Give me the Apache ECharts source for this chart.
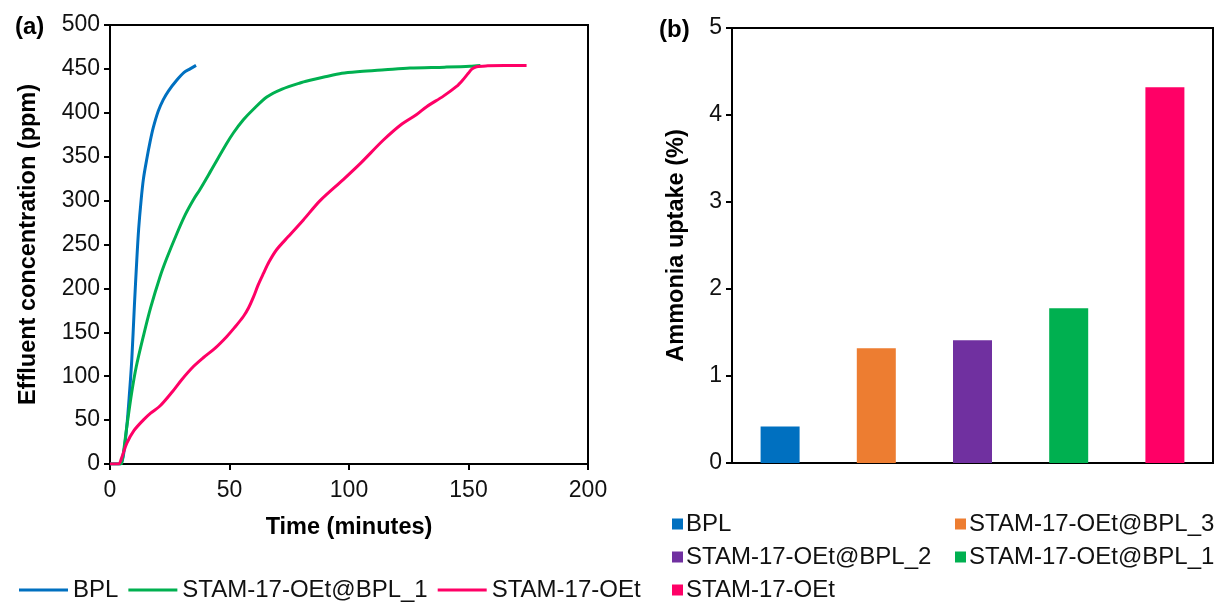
<!DOCTYPE html>
<html>
<head>
<meta charset="utf-8">
<script src="https://cdn.jsdelivr.net/npm/echarts@6/dist/echarts.min.js"></script>
<style>
html, body { margin: 0; padding: 0; background: #fff; }
#main { width: 1217px; height: 603px; }
</style>
</head>
<body>
<div id="main"></div>
<script>
// (a) breakthrough curves: [time (min), concentration (ppm)]
var bplCurve = [
    [0, 0], [4.2, 0], [5.5, 8], [7, 42], [8, 75], [9.1, 118], [10.2, 180], [11.2, 232],
    [12, 268], [13, 300], [14, 325], [15.3, 346], [16.7, 366], [18.1, 383], [20.2, 402],
    [22.3, 415], [24.5, 425], [27.9, 437], [31, 446], [33.5, 450], [36, 454]
];
var bpl1Curve = [
    [0, 0], [3.8, 0], [4.9, 1], [7, 42], [9, 80], [11, 111], [14, 146], [17, 178],
    [20.9, 213], [23.7, 234], [27.9, 262], [31.5, 284], [34.9, 301], [37.7, 313], [42, 333],
    [48.8, 365], [51.6, 377], [55.8, 392], [60, 404], [65.6, 418], [72, 427],
    [79.5, 434], [83.7, 437], [90, 441], [97, 445], [104.6, 447], [115, 449],
    [125.5, 451], [140, 452], [150.6, 453], [155, 454]
];
var oetCurve = [
    [0, 0], [3.5, 0], [5, 8], [7, 23.5], [10, 38], [13.9, 50], [17, 58], [20.9, 66],
    [26, 82], [30, 96], [34.9, 111], [39, 121], [44, 132], [48.8, 145], [52, 155],
    [55.8, 168], [58, 178], [60, 190], [62, 204], [64.2, 217], [66.5, 230], [69.7, 244],
    [74.6, 259], [80.9, 278], [87.9, 300], [97.6, 324], [105, 343], [114.4, 369],
    [122, 387], [128.3, 398], [132.5, 407], [139.5, 419], [145, 430], [147.5, 437],
    [149.9, 445], [151.5, 450], [153.4, 452.5], [158, 453.5], [165, 454], [174.3, 454]
];

// (b) ammonia uptake
var samples = ['BPL', 'STAM-17-OEt@BPL_3', 'STAM-17-OEt@BPL_2', 'STAM-17-OEt@BPL_1', 'STAM-17-OEt'];
var uptake = [0.42, 1.32, 1.41, 1.78, 4.32];
var barColors = ['#0070C0', '#ED7D31', '#7030A0', '#00B050', '#FF0066'];

var xTicks = [0, 50, 100, 150, 200];
var yTicksA = [0, 500];
var yTicksB = [0, 5];

var FONT = 'Liberation Sans';
var black = '#000';

var barSeries = samples.map(function (name, i) {
    var row = samples.map(function (s, j) { return j === i ? uptake[i] : '-'; });
    return {
        name: 'b:' + name,
        type: 'bar',
        xAxisIndex: 1,
        yAxisIndex: 1,
        barWidth: 39,
        barGap: '-100%',
        itemStyle: { color: barColors[i] },
        data: row
    };
});

// right-hand legend, one item per slot (2 columns, 3 rows)
var legendSlots = [[667, 507], [950, 507], [667, 540], [950, 540], [667, 573]];
var barLegends = samples.map(function (name, i) {
    return {
        left: legendSlots[i][0],
        top: legendSlots[i][1],
        icon: 'rect',
        itemWidth: 11,
        itemHeight: 11,
        itemGap: 0,
        selectedMode: false,
        formatter: function (n) { return n.replace(/^b:/, ''); },
        textStyle: { fontFamily: FONT, fontSize: 24, color: '#111', padding: [0, 0, 0, -2] },
        data: ['b:' + name]
    };
});

function axisCommon() {
    return {
        axisLine: { show: true, onZero: false, lineStyle: { color: black, width: 2 } },
        axisTick: { show: true, inside: false, length: 6, lineStyle: { color: black, width: 2 } },
        axisLabel: { fontFamily: FONT, fontSize: 23, color: '#111' },
        splitLine: { show: false }
    };
}

var nameStyle = { fontFamily: FONT, fontSize: 23.5, fontWeight: 'bold', color: black };

var xA = axisCommon();
Object.assign(xA, {
    type: 'value', gridIndex: 0, min: xTicks[0], max: xTicks[xTicks.length - 1], interval: 50,
    name: 'Time (minutes)', nameLocation: 'middle', nameGap: 52, nameTextStyle: nameStyle
});
xA.axisLabel.margin = 15;

var yA = axisCommon();
Object.assign(yA, {
    type: 'value', gridIndex: 0, min: yTicksA[0], max: yTicksA[1], interval: 50,
    name: 'Effluent concentration (ppm)', nameLocation: 'middle', nameGap: 69, nameTextStyle: nameStyle
});
yA.axisLabel.margin = 10;

var xB = axisCommon();
Object.assign(xB, {
    type: 'category', gridIndex: 1, data: samples
});
xB.axisTick = { show: false };
xB.axisLabel = { show: false };

var yB = axisCommon();
Object.assign(yB, {
    type: 'value', gridIndex: 1, min: yTicksB[0], max: yTicksB[1], interval: 1,
    name: 'Ammonia uptake (%)', nameLocation: 'middle', nameGap: 43, nameTextStyle: nameStyle
});
yB.axisLabel.margin = 10;

function lineSeries(name, data, color) {
    return {
        name: name,
        type: 'line',
        xAxisIndex: 0,
        yAxisIndex: 0,
        data: data,
        symbol: 'none',
        smooth: 0.3,
        lineStyle: { color: color, width: 3 },
        itemStyle: { color: color }
    };
}

var myChart = echarts.init(document.getElementById('main'));
var option = {
    animation: false,
    backgroundColor: '#fff',
    title: [
        { text: '(a)', left: 10, top: 10, textStyle: { fontFamily: FONT, fontSize: 24, fontWeight: 'bold', color: black } },
        { text: '(b)', left: 654, top: 13, textStyle: { fontFamily: FONT, fontSize: 24, fontWeight: 'bold', color: black } }
    ],
    grid: [
        { left: 110, right: 629, top: 25, bottom: 139, show: true, borderColor: black, borderWidth: 2, backgroundColor: 'transparent' },
        { left: 732, right: 4, top: 28, bottom: 140, show: true, borderColor: black, borderWidth: 2, backgroundColor: 'transparent' }
    ],
    legend: [{
        left: 14,
        top: 573,
        icon: 'rect',
        itemWidth: 49,
        itemHeight: 3,
        itemGap: 10,
        selectedMode: false,
        textStyle: { fontFamily: FONT, fontSize: 24, color: '#111' },
        data: ['BPL', 'STAM-17-OEt@BPL_1', 'STAM-17-OEt']
    }].concat(barLegends),
    xAxis: [xA, xB],
    yAxis: [yA, yB],
    series: [
        lineSeries('BPL', bplCurve, '#0070C0'),
        lineSeries('STAM-17-OEt@BPL_1', bpl1Curve, '#00B050'),
        lineSeries('STAM-17-OEt', oetCurve, '#FF0066')
    ].concat(barSeries)
};
myChart.setOption(option);    //载入图表
</script>
</body>
</html>
